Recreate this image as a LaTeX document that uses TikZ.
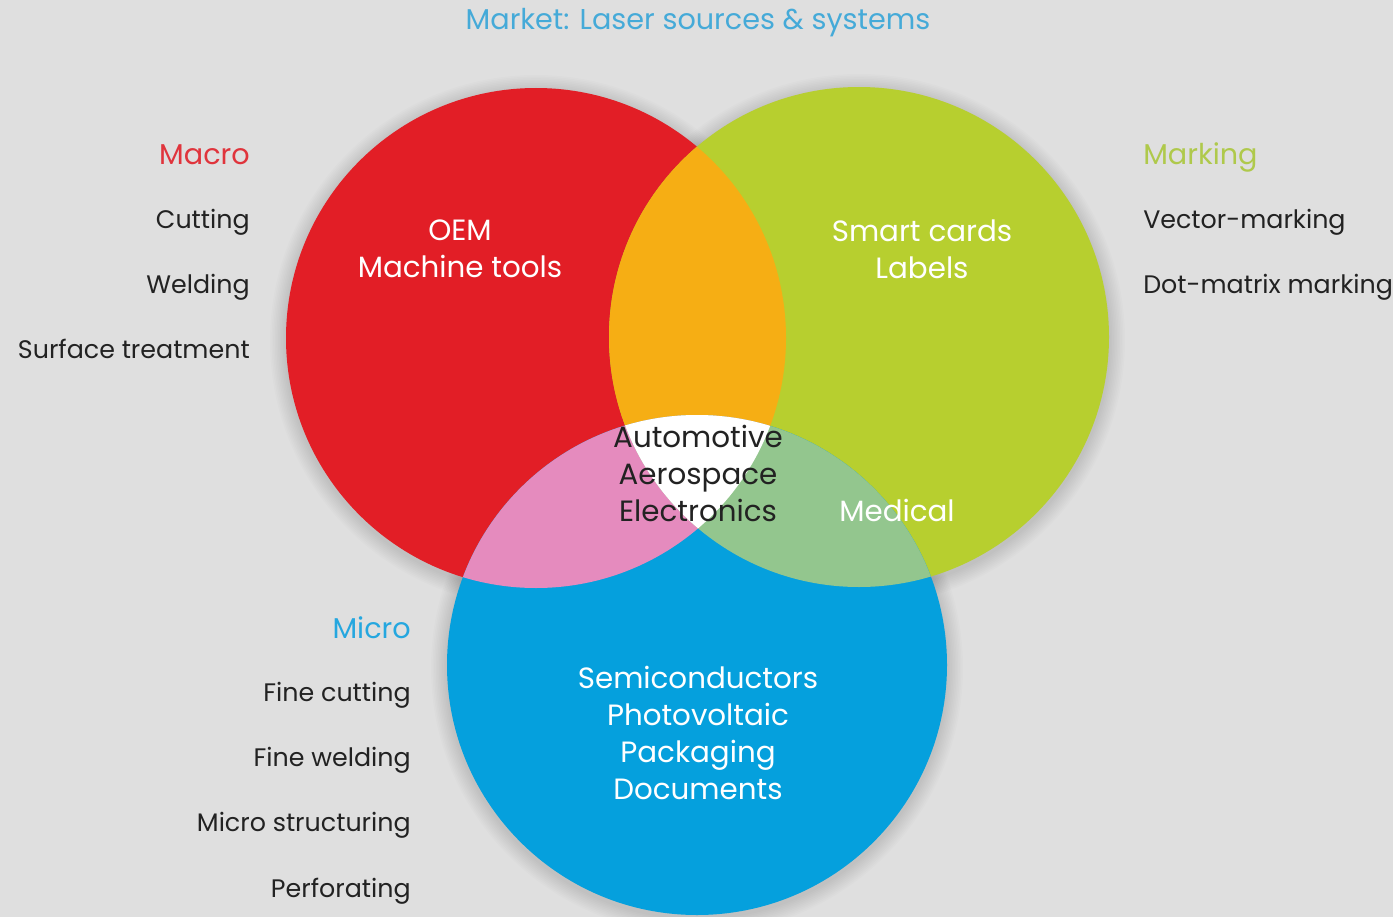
\documentclass[tikz,border=0pt]{standalone}
\usepackage{fontspec}
\setmainfont{Poppins}
\usetikzlibrary{calc}
\usetikzlibrary{positioning}
\definecolor{bg}{HTML}{DFDFDF}
\definecolor{macrored}{HTML}{E21E26}
\definecolor{markgreen}{HTML}{B7CF2F}
\definecolor{microblue}{HTML}{05A0DD}
\definecolor{overorange}{HTML}{F6AE14}
\definecolor{overpink}{HTML}{E58BBE}
\definecolor{overgreen}{HTML}{93C68E}
\definecolor{titleblue}{HTML}{45AAD8}
\definecolor{headred}{HTML}{E0343C}
\definecolor{headgreen}{HTML}{AFC94B}
\definecolor{headblue}{HTML}{25A7DF}
\definecolor{ink}{HTML}{222222}
\def\Radius{250}
\def\Step{65.3}

\begin{document}
\begin{tikzpicture}[x=.75pt,y=-.75pt,
  txt/.style={font=\fontsize{19}{27.75}\selectfont, inner sep=0pt, text=ink},
  head/.style={txt, font=\fontsize{21.5}{27.75}\selectfont},
  inner/.style={txt, align=center, text=white, font=\fontsize{22}{27.75}\selectfont}]
  % background
  \fill[bg] (0,0) rectangle (1393,917);
  \useasboundingbox (0,0) rectangle (1393,917);
  \coordinate (R) at (536,338);
  \coordinate (G) at (859,337);
  \coordinate (B) at (697,665);
  % soft shadows
  \foreach \c in {R,G,B}
    {
      \foreach \i in {1,...,10}
        \fill[black, opacity=.012] ($ (\c) + (0,3) $) circle(\Radius+\i*1.6);
    }
  % circles
  \fill[macrored] (R) circle(\Radius);
  \fill[markgreen] (G) circle(\Radius);
  \fill[microblue] (B) circle(\Radius);
  % overlaps
  \begin{scope}
    \clip (R) circle(\Radius);
    \fill[overorange] (G) circle(\Radius);
    \fill[overpink] (B) circle(\Radius);
  \end{scope}
  \begin{scope}
    \clip (G) circle(\Radius);
    \fill[overgreen] (B) circle(\Radius);
    \clip (R) circle(\Radius);
    \fill[white] (B) circle(\Radius);
  \end{scope}
  % title
  \node[head, text=titleblue, anchor=base] (title) at (698,30) {Market: Laser sources \& systems};
  % macro
  \node[head, text=headred, anchor=base east] (macro) at (250,165) {Macro};
  \foreach \t [count=\i] in {Cutting, Welding, Surface treatment}
    \node[txt, anchor=base east] (macro-\i) at (250,163+\i*\Step) {\t};
  % marking
  \node[head, text=headgreen, anchor=base west] (marking) at (1143,165) {Marking};
  \foreach \t [count=\i] in {Vector-marking, Dot-matrix marking}
    \node[txt, anchor=base west] (marking-\i) at (1143,163+\i*\Step) {\t};
  % micro
  \node[head, text=headblue, anchor=base east] (micro) at (411,638) {Micro};
  \foreach \t [count=\i] in {Fine cutting, Fine welding, Micro structuring, Perforating}
    \node[txt, anchor=base east] (micro-\i) at (411,636+\i*\Step) {\t};
  % inside the circles
  \node[inner] (oem) at (460,249) {OEM\\Machine tools};
  \node[inner] (cards) at (922,249) {Smart cards\\Labels};
  \node[inner, text=ink] (core) at (698,473) {Automotive\\Aerospace\\Electronics};
  \node[inner, anchor=base] (medical) at (897,521) {Medical};
  \node[inner] (semi) at (698,733) {Semiconductors\\Photovoltaic\\Packaging\\Documents};
\end{tikzpicture}
\end{document}
